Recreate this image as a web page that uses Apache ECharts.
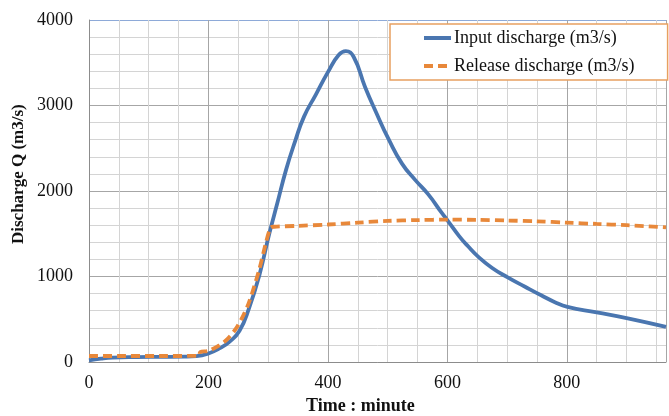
<!DOCTYPE html>
<html><head><meta charset="utf-8">
<script src="https://cdn.jsdelivr.net/npm/echarts@6/dist/echarts.min.js"></script>
<style>html,body{margin:0;padding:0;background:#fff}#c{width:669px;height:416px}</style>
</head><body><div id="c"></div>
<script>
const seriesNames = ['Input discharge (m3/s)', 'Release discharge (m3/s)'];
const inputDischarge = [[0,20],[20,40],[40,52],[80,58],[120,60],[160,62],[180,68],[200,100],[220,165],[235,235],[252,365],[268,630],[285,1010],[302,1505],[315,1850],[330,2250],[345,2580],[360,2870],[380,3130],[400,3390],[418,3590],[430,3635],[443,3570],[462,3220],[480,2930],[502,2600],[524,2320],[546,2130],[568,1960],[590,1750],[602,1640],[620,1470],[635,1350],[651,1235],[675,1100],[701,990],[730,880],[757,780],[780,700],[801,645],[850,580],[902,510],[966,410]];
const releaseDischarge = [[0,70],[60,70],[120,70],[184,72],[186,115],[200,130],[218,195],[232,270],[246,390],[258,540],[268,700],[285,1080],[296,1390],[304,1570],[310,1582],[350,1592],[400,1608],[450,1630],[500,1650],[550,1660],[600,1665],[650,1662],[700,1655],[750,1645],[800,1630],[850,1615],[900,1600],[966,1575]];
const xTicks = [0,200,400,600,800];
const yTicks = [0,1000,2000,3000,4000];

const font = 'Liberation Serif';
const chart = echarts.init(document.getElementById('c'), null, {renderer:'canvas'});
chart.setOption({
  animation: false,
  backgroundColor: '#fff',
  grid: {left: 89, top: 20, right: 0, bottom: 54, containLabel: false},
  xAxis: {
    type: 'value', min: 0, max: 966, interval: 200,
    axisLine: {show: true, lineStyle: {color: '#8c8c8c', width: 1}},
    axisTick: {show: false},
    axisLabel: {fontFamily: font, fontSize: 18, color: '#111', margin: 12,
      formatter: v => xTicks.includes(v) ? String(v) : ''},
    splitLine: {show: true, lineStyle: {color: '#a6a6a6', width: 1}},
    minorTick: {show: false, splitNumber: 4},
    minorSplitLine: {show: true, lineStyle: {color: '#d4d4d4', width: 1}}
  },
  yAxis: {
    type: 'value', min: 0, max: 4000, interval: 1000,
    axisLine: {show: true, lineStyle: {color: '#8c8c8c', width: 1}},
    axisTick: {show: false},
    axisLabel: {fontFamily: font, fontSize: 18, color: '#111', margin: 16,
      formatter: v => yTicks.includes(v) ? String(v) : ''},
    splitLine: {show: true, lineStyle: {color: ['#a6a6a6','#a6a6a6','#a6a6a6','#a6a6a6','#8eaad8'], width: 1}},
    minorTick: {show: false, splitNumber: 5},
    minorSplitLine: {show: true, lineStyle: {color: '#d4d4d4', width: 1}}
  },
  legend: {
    orient: 'vertical', left: 390, top: 24,
    backgroundColor: '#fff', borderColor: '#e8a060', borderWidth: 1.5,
    padding: [5, 33, 5, 32], itemGap: 10, itemWidth: 27, itemHeight: 14,
    itemStyle: {opacity: 0},
    lineStyle: {width: 4},
    textStyle: {fontFamily: font, fontSize: 18, color: '#111', padding: [0,0,0,-2]},
    data: seriesNames
  },
  graphic: [
    {type: 'text', left: 306, top: 397, style: {text: 'Time : minute', fontFamily: font, fontSize: 18, fontWeight: 'bold', fill: '#111'}},
    {type: 'text', x: 10, y: 244, rotation: Math.PI/2, style: {text: 'Discharge Q (m3/s)', fontFamily: font, fontSize: 17, fontWeight: 'bold', fill: '#111'}}
  ],
  series: [
    {name: seriesNames[0], type: 'line', data: inputDischarge, smooth: 0.5, symbol: 'none',
      lineStyle: {color: '#4a76b0', width: 3.8}, itemStyle: {color: '#4a76b0'}, z: 3},
    {name: seriesNames[1], type: 'line', data: releaseDischarge, smooth: 0.3, symbol: 'none',
      lineStyle: {color: '#e8883a', width: 3.8, type: [9, 5]}, itemStyle: {color: '#e8883a'}, z: 4}
  ]
});
</script></body></html>
